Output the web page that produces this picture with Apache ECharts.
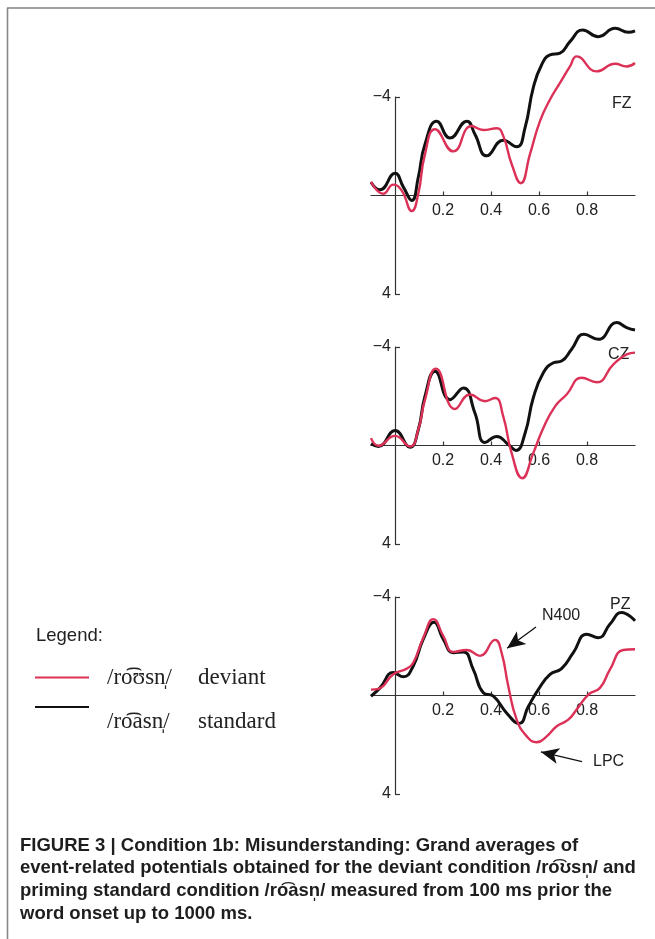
<!DOCTYPE html>
<html>
<head>
<meta charset="utf-8">
<script src="https://cdn.jsdelivr.net/npm/echarts@6/dist/echarts.min.js"></script>
<style>
  html, body { margin: 0; padding: 0; background: #fff; }
  #main { width: 655px; height: 939px; }
</style>
</head>
<body>
<div id="main"></div>
<script>
var chartDom = document.getElementById('main');
var myChart = echarts.init(chartDom);
var option;

// legend / series names: [transcription, condition]
var devParts = ['/ro\u0361\u028Asn\u0329/', 'deviant'];
var stdParts = ['/ro\u0361asn\u0329/', 'standard'];
var devName = devParts.join(' ');
var stdName = stdParts.join('  ');

var electrodes = ['FZ', 'CZ', 'PZ'];
var xTicks = [0.2, 0.4, 0.6, 0.8];
var yTicks = [-4, 4];

// [time (s), amplitude (µV)], negative plotted up
var fzStandard = [
  [-0.1, -0.54], [-0.0625, -0.23], [0, -0.9], [0.035, -0.34], [0.07, 0.2],
  [0.097, -0.74], [0.125, -2.08], [0.174, -3.02], [0.229, -2.33], [0.299, -3.02],
  [0.333, -2.49], [0.382, -1.61], [0.451, -2.24], [0.507, -1.98], [0.542, -2.76],
  [0.576, -4.37], [0.611, -5.31], [0.646, -5.71], [0.6875, -5.78], [0.729, -6.25],
  [0.782, -6.72], [0.847, -6.45], [0.917, -6.79], [0.972, -6.63], [1.0, -6.69]
];
var fzDeviant = [
  [-0.1, -0.56], [-0.049, -0.07], [-0.007, -0.44], [0.028, -0.2], [0.07, 0.63],
  [0.097, -0.07], [0.125, -1.68], [0.167, -2.69], [0.243, -1.79], [0.319, -2.82],
  [0.368, -2.66], [0.424, -2.73], [0.451, -2.42], [0.486, -1.28], [0.524, -0.5],
  [0.5625, -1.68], [0.604, -3.02], [0.646, -3.9], [0.6875, -4.57], [0.729, -5.24],
  [0.757, -5.65], [0.84, -5.04], [0.917, -5.35], [0.965, -5.24], [1.0, -5.38]
];
var czStandard = [
  [-0.1, -0.07], [-0.069, 0.04], [0, -0.61], [0.0625, 0.07], [0.097, -0.64],
  [0.125, -2.0], [0.167, -3.02], [0.229, -1.86], [0.285, -2.34], [0.333, -1.32],
  [0.375, -0.12], [0.424, -0.37], [0.472, -0.04], [0.504, 0.2], [0.542, -0.5],
  [0.576, -1.93], [0.618, -2.95], [0.66, -3.36], [0.694, -3.43], [0.736, -3.91],
  [0.7875, -4.52], [0.847, -4.31], [0.924, -4.99], [0.965, -4.79], [1.0, -4.69]
];
var czDeviant = [
  [-0.1, -0.3], [-0.069, 0.01], [0, -0.39], [0.0625, 0.04], [0.097, -0.64],
  [0.125, -1.86], [0.171, -3.12], [0.25, -1.48], [0.3125, -2.07], [0.375, -1.8],
  [0.417, -1.93], [0.451, -1.18], [0.486, 0.31], [0.53, 1.33], [0.576, 0.31],
  [0.618, -0.71], [0.667, -1.59], [0.715, -2.07], [0.778, -2.75], [0.84, -2.57],
  [0.91, -3.29], [0.965, -3.7], [1.0, -3.77]
];
var pzStandard = [
  [-0.1, 0.03], [-0.0625, -0.31], [-0.007, -0.93], [0.035, -0.76], [0.076, -1.2],
  [0.118, -2.29], [0.1625, -2.97], [0.201, -2.29], [0.243, -1.74], [0.285, -1.77],
  [0.326, -1.06], [0.368, -0.11], [0.41, 0.03], [0.465, 0.71], [0.517, 1.14],
  [0.556, 0.44], [0.597, -0.24], [0.646, -0.86], [0.694, -1.09], [0.743, -1.74],
  [0.799, -2.49], [0.847, -2.35], [0.896, -2.9], [0.944, -3.37], [1.0, -3.03]
];
var pzDeviant = [
  [-0.1, -0.24], [-0.069, -0.27], [-0.007, -0.86], [0.049, -1.09], [0.076, -1.33],
  [0.118, -2.35], [0.16, -3.1], [0.201, -2.42], [0.243, -1.77], [0.299, -1.85],
  [0.354, -1.61], [0.417, -2.26], [0.444, -1.74], [0.472, -0.38], [0.507, 0.98],
  [0.549, 1.66], [0.59, 1.9], [0.632, 1.66], [0.674, 1.25], [0.722, 0.98],
  [0.757, 0.57], [0.806, -0.04], [0.854, -0.31], [0.896, -1.06], [0.951, -1.85],
  [1.0, -1.88]
];

var standardData = [fzStandard, czStandard, pzStandard];
var deviantData = [fzDeviant, czDeviant, pzDeviant];

// annotation arrows on PZ, [tail, head] in data units
var n400Arrow = [[0.5875, -2.78], [0.467, -1.92]];
var lpcArrow = [[0.779, 2.69], [0.608, 2.29]];

var captionLines = [
  'FIGURE 3 | Condition 1b: Misunderstanding: Grand averages of',
  'event-related potentials obtained for the deviant condition /ro\u0361\u028Asn\u0329/ and',
  'priming standard condition /ro\u0361asn\u0329/ measured from 100 ms prior the',
  'word onset up to 1000 ms.'
];

var RED = '#dc3157';
var BLACK = '#111';
var AXIS = '#333';
var sans = '"Liberation Sans", Arial, sans-serif';
var serif = '"Liberation Serif", "DejaVu Serif", serif';

var gridLeft = 371, gridWidth = 264, gridHeight = 197;
var gridTops = [97, 347, 597];
var grids = [], xAxes = [], yAxes = [], series = [];

gridTops.forEach(function (top, i) {
  grids.push({ left: gridLeft, width: gridWidth, top: top, height: gridHeight });
  // x axis drawn through 0 µV (middle of the -4..4 range)
  xAxes.push({
    type: 'value', gridIndex: i, min: -0.1, max: 1.0,
    offset: -gridHeight / 2,
    axisLine: { onZero: false, lineStyle: { color: AXIS, width: 1.2 } },
    axisTick: { inside: true, length: 4, customValues: xTicks, lineStyle: { color: AXIS, width: 1.2 } },
    axisLabel: {
      customValues: xTicks, margin: 7, color: '#222', fontSize: 16, fontFamily: sans,
      formatter: function (v) { return v.toFixed(1); }
    },
    splitLine: { show: false }
  });
  // y axis drawn through t = 0
  yAxes.push({
    type: 'value', gridIndex: i, min: -4, max: 4, inverse: true,
    offset: -gridWidth * 0.1 / 1.1,
    axisLine: { show: true, onZero: false, lineStyle: { color: AXIS, width: 1.2 } },
    axisTick: { show: true, inside: true, length: 5, customValues: yTicks, lineStyle: { color: AXIS, width: 1.2 } },
    axisLabel: {
      customValues: yTicks, margin: 4, color: '#222', fontSize: 16, fontFamily: sans,
      formatter: function (v) { return v < 0 ? '\u2212' + Math.abs(v) : String(v); }
    },
    splitLine: { show: false }
  });
  series.push({
    name: stdName, type: 'line', xAxisIndex: i, yAxisIndex: i,
    data: standardData[i], smooth: 0.5, showSymbol: false, clip: false,
    lineStyle: { color: BLACK, width: 3 }, itemStyle: { color: BLACK }
  });
  var dev = {
    name: devName, type: 'line', xAxisIndex: i, yAxisIndex: i,
    data: deviantData[i], smooth: 0.5, showSymbol: false, clip: false,
    lineStyle: { color: RED, width: 2.4 }, itemStyle: { color: RED }
  };
  if (i === 2) {
    dev.markLine = {
      silent: true, symbol: ['none', 'arrow'], symbolSize: [12, 18],
      lineStyle: { color: BLACK, width: 1.3, type: 'solid' },
      label: { show: false },
      data: [
        [{ coord: n400Arrow[0] }, { coord: n400Arrow[1] }],
        [{ coord: lpcArrow[0] }, { coord: lpcArrow[1] }]
      ]
    };
  }
  series.push(dev);
});

function txt(x, y, s, size, extra) {
  var st = { text: s, x: x, y: y, fill: '#222', fontSize: size, fontFamily: sans, verticalAlign: 'middle' };
  if (extra) Object.keys(extra).forEach(function (k) { st[k] = extra[k]; });
  return { type: 'text', style: st };
}

var graphics = [
  { type: 'line', shape: { x1: 7, y1: 8, x2: 655, y2: 8 }, style: { stroke: '#444', lineWidth: 1.2 } },
  { type: 'line', shape: { x1: 7.5, y1: 8, x2: 7.5, y2: 939 }, style: { stroke: '#888', lineWidth: 1.6 } },
  txt(612, 104, electrodes[0], 16),
  txt(608, 355, electrodes[1], 16),
  txt(610, 605, electrodes[2], 16),
  txt(542, 616, 'N400', 16),
  txt(593, 762, 'LPC', 16),
  txt(36, 636, 'Legend:', 18.5)
];
captionLines.forEach(function (line, i) {
  graphics.push(txt(20, 845.5 + i * 22.7, line, 18.5, { fontWeight: 'bold', fill: '#1e1e1e' }));
});

var legendParts = {};
legendParts[devName] = devParts;
legendParts[stdName] = stdParts;

function legendText(padTop) {
  var base = { fontFamily: serif, fontSize: 23, color: '#222' };
  return {
    fontFamily: serif, fontSize: 23, color: '#222',
    rich: {
      ipa: Object.assign({ width: 91, padding: [padTop, 0, 0, 13] }, base),
      w: Object.assign({ padding: [padTop, 0, 0, 0] }, base)
    }
  };
}
function legendFormatter(n) {
  var p = legendParts[n];
  return '{ipa|' + p[0] + '}{w|' + p[1] + '}';
}

option = {
  animation: false,
  legend: [
    {
      data: [devName], left: 35, top: 666, padding: 0,
      icon: 'rect', itemWidth: 54, itemHeight: 2,
      formatter: legendFormatter,
      textStyle: legendText(0)
    },
    {
      data: [stdName], left: 35, top: 706, padding: 0,
      icon: 'rect', itemWidth: 54, itemHeight: 2,
      formatter: legendFormatter,
      textStyle: legendText(30)
    }
  ],
  grid: grids,
  xAxis: xAxes,
  yAxis: yAxes,
  series: series,
  graphic: graphics
};

option && myChart.setOption(option);
</script>
</body>
</html>
